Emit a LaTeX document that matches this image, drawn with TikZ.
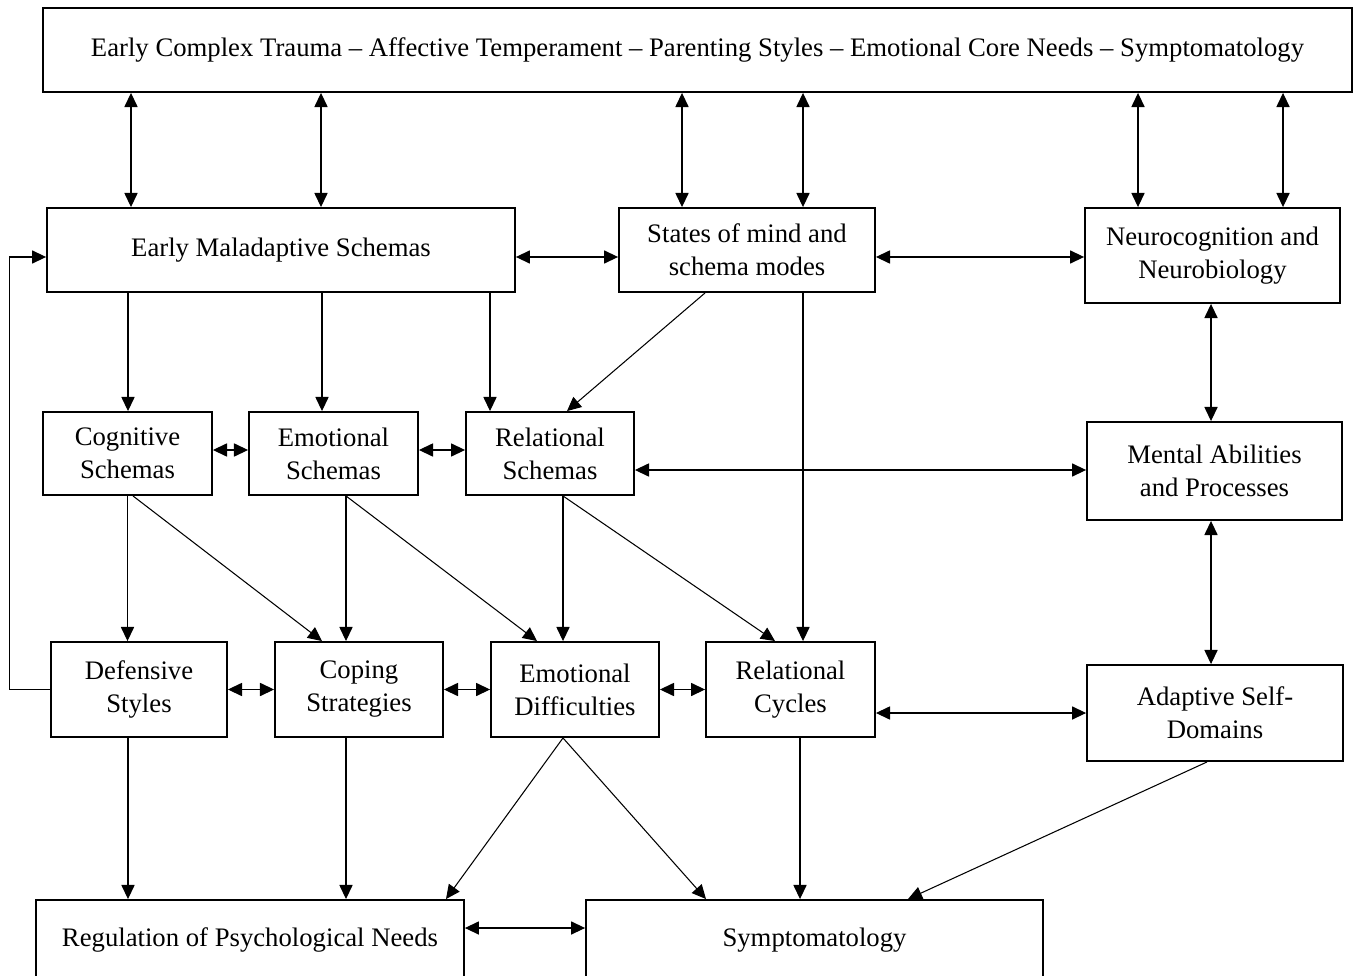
\documentclass[tikz,border=0pt]{standalone}
\usepackage{fontspec}
\setmainfont{Liberation Serif}
\usetikzlibrary{arrows.meta,positioning}

\begin{document}
\begin{tikzpicture}[
        x=0.02cm, y=-0.02cm,
        box/.style={rectangle, draw, line width=1.1pt, align=center, inner sep=0pt,
            font=\fontsize{15.2}{18.8}\selectfont},
        arr/.style={-{Triangle[length=8pt,width=7.5pt]}, line width=0.6pt},
        both/.style={{Triangle[length=8pt,width=7.5pt]}-{Triangle[length=8pt,width=7.5pt]}, line width=0.6pt}
    ]
    \useasboundingbox (0,0) rectangle (1358,976);

    % Top row
    \node[box, minimum width=26.18cm, minimum height=1.68cm] (origins) at (697.5,50)
        {Early Complex Trauma -- Affective Temperament -- Parenting Styles -- Emotional Core Needs -- Symptomatology};

    % Schemas, modes and neurobiology
    \node[box, minimum width=9.36cm, minimum height=1.68cm] (maladaptive) at (281,250) {Early Maladaptive Schemas};
    \node[box, minimum width=5.12cm, minimum height=1.68cm] (states) at (747,250) {States of mind and\\schema modes};
    \node[box, minimum width=5.10cm, minimum height=1.90cm] (neuro) at (1212.5,255.5) {Neurocognition and\\Neurobiology};

    % Schema domains
    \node[box, minimum width=3.38cm, minimum height=1.66cm] (cognitive) at (127.5,453.5) {Cognitive\\Schemas};
    \node[box, minimum width=3.38cm, minimum height=1.66cm] (emotional) at (333.5,453.5) {Emotional\\Schemas};
    \node[box, minimum width=3.36cm, minimum height=1.66cm] (relational) at (550,453.5) {Relational\\Schemas};
    \node[box, minimum width=5.10cm, minimum height=1.96cm] (mental) at (1214.5,471) {Mental Abilities\\and Processes};

    % Outcomes of the schemas
    \node[box, minimum width=3.52cm, minimum height=1.90cm] (defensive) at (139,689.5) {Defensive\\Styles};
    \node[box, minimum width=3.36cm, minimum height=1.90cm] (coping) at (359,689.5) {Coping\\Strategies};
    \node[box, minimum width=3.36cm, minimum height=1.90cm] (difficulties) at (575,689.5) {Emotional\\Difficulties};
    \node[box, minimum width=3.38cm, minimum height=1.90cm] (cycles) at (790.5,689.5) {Relational\\Cycles};
    \node[box, minimum width=5.12cm, minimum height=1.92cm] (adaptive) at (1215,713) {Adaptive Self-\\Domains};

    % Bottom row
    \node[box, minimum width=8.56cm, minimum height=1.60cm] (regulation) at (250,940) {Regulation of Psychological Needs};
    \node[box, minimum width=9.14cm, minimum height=1.60cm] (symptoms) at (814.5,940) {Symptomatology};

    % Links with the top row
    \foreach \x in {131,321}
        \draw[both] (origins.south -| \x,0) -- (maladaptive.north -| \x,0);
    \foreach \x in {682,803}
        \draw[both] (origins.south -| \x,0) -- (states.north -| \x,0);
    \foreach \x in {1138,1283}
        \draw[both] (origins.south -| \x,0) -- (neuro.north -| \x,0);

    % Horizontal links
    \draw[both] (maladaptive.east |- 0,257) -- (states.west |- 0,257);
    \draw[both] (states.east |- 0,257) -- (neuro.west |- 0,257);
    \draw[both] (cognitive.east |- 0,450) -- (emotional.west |- 0,450);
    \draw[both] (emotional.east |- 0,450) -- (relational.west |- 0,450);
    \draw[both] (relational.east |- 0,470) -- (mental.west |- 0,470);
    \draw[both] (defensive.east) -- (coping.west);
    \draw[both] (coping.east) -- (difficulties.west);
    \draw[both] (difficulties.east) -- (cycles.west);
    \draw[both] (cycles.east |- 0,713) -- (adaptive.west);
    \draw[both] (regulation.east |- 0,928) -- (symptoms.west |- 0,928);

    % Vertical links on the right
    \draw[both] (neuro.south -| 1211,0) -- (mental.north -| 1211,0);
    \draw[both] (mental.south -| 1211,0) -- (adaptive.north -| 1211,0);

    % From the maladaptive schemas and modes
    \draw[arr] (maladaptive.south -| 128,0) -- (cognitive.north -| 128,0);
    \draw[arr] (maladaptive.south -| 322,0) -- (emotional.north -| 322,0);
    \draw[arr] (maladaptive.south -| 490,0) -- (relational.north -| 490,0);
    \draw[arr] (states.south -| 705,0) -- (relational.north -| 567,0);
    \draw[arr] (states.south -| 803,0) -- (cycles.north -| 803,0);

    % From the schema domains
    \draw[arr] (cognitive.south) -- (defensive.north -| cognitive.south);
    \draw[arr] (cognitive.south -| 133,0) -- (coping.north -| 322,0);
    \draw[arr] (emotional.south -| 346,0) -- (coping.north -| 346,0);
    \draw[arr] (emotional.south -| 346,0) -- (difficulties.north -| 537,0);
    \draw[arr] (relational.south -| 563,0) -- (difficulties.north -| 563,0);
    \draw[arr] (relational.south -| 563,0) -- (cycles.north -| 775,0);

    % Feedback loop
    \draw[arr] (defensive.west) -- ++(-41,0) |- (maladaptive.west |- 0,257);

    % Towards the bottom row
    \draw[arr] (defensive.south -| 128,0) -- (regulation.north -| 128,0);
    \draw[arr] (coping.south -| 346,0) -- (regulation.north -| 346,0);
    \draw[arr] (difficulties.south -| 563,0) -- (regulation.north -| 446,0);
    \draw[arr] (difficulties.south -| 563,0) -- (symptoms.north -| 706,0);
    \draw[arr] (cycles.south -| 800,0) -- (symptoms.north -| 800,0);
    \draw[arr] (adaptive.south -| 1207,0) -- (symptoms.north -| 908,0);

\end{tikzpicture}
\end{document}
